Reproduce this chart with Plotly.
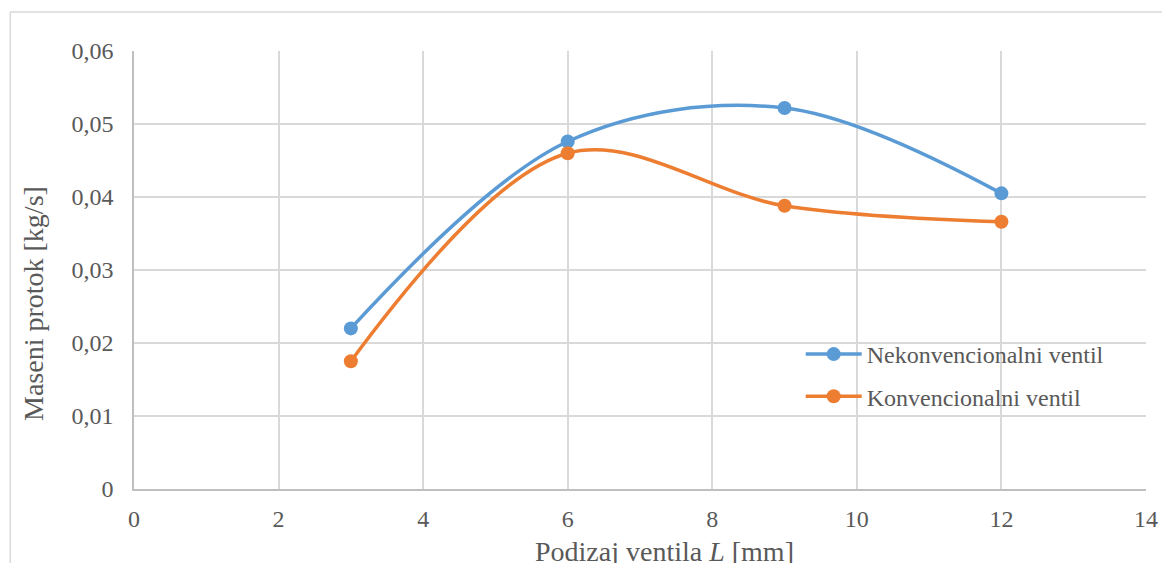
import plotly.graph_objects as go

x_lift = [3, 6, 9, 12]
nekonvencionalni = [0.0220, 0.0476, 0.0522, 0.0405]
konvencionalni = [0.0175, 0.0460, 0.0388, 0.0366]
series_names = ["Nekonvencionalni ventil", "Konvencionalni ventil"]
x_tick_vals = [0, 2, 4, 6, 8, 10, 12, 14]
y_tick_vals = [0, 0.01, 0.02, 0.03, 0.04, 0.05, 0.06]
y_tick_text = ["0", "0,01", "0,02", "0,03", "0,04", "0,05", "0,06"]

FONT = "Liberation Serif, Times New Roman, serif"
TXT = "#595959"
GRID = "#D9D9D9"

fig = go.Figure()
fig.add_trace(go.Scatter(x=x_lift, y=nekonvencionalni, name=series_names[0],
                         mode="lines+markers", legendgroup="a",
                         line=dict(color="#5B9BD5", width=3.5, shape="spline", smoothing=1.0),
                         marker=dict(size=14, color="#5B9BD5")))
fig.add_trace(go.Scatter(x=x_lift, y=konvencionalni, name=series_names[1],
                         mode="lines+markers", legendgroup="b",
                         line=dict(color="#ED7D31", width=3.5, shape="spline", smoothing=1.0),
                         marker=dict(size=14, color="#ED7D31")))

OFF = 8  # default page body margin
W, H = 1170 - OFF, 563 - OFF
# plot area in screen pixels
PL, PR, PT, PB = 134, 1148, 51, 489
L, T = PL - OFF, PT - OFF
R, B = OFF + W - PR, OFF + H - PB
pw, ph = PR - PL, PB - PT

def px_x(p):
    return (p - PL) / pw

def px_y(p):
    return (PB - p) / ph

fig.update_layout(
    width=W, height=H,
    margin=dict(l=L, r=R, t=T, b=B),
    paper_bgcolor="white", plot_bgcolor="white",
    font=dict(family=FONT, color=TXT, size=24),
    showlegend=True,
    legend=dict(x=px_x(802), y=px_y(332), xanchor="left", yanchor="top",
                font=dict(size=24, color=TXT, family=FONT),
                bgcolor="rgba(0,0,0,0)", tracegroupgap=8, itemwidth=56),
    xaxis=dict(range=[0, 14], tickvals=x_tick_vals, showgrid=True, gridcolor=GRID, gridwidth=1.5,
               showline=True, linecolor="#BFBFBF", linewidth=1.5, zeroline=False,
               ticks="", ticklabelstandoff=7, tickfont=dict(size=24, color=TXT, family=FONT)),
    yaxis=dict(range=[0, 0.06], tickvals=y_tick_vals, ticktext=y_tick_text, showgrid=True,
               gridcolor=GRID, gridwidth=1.5, showline=True, linecolor="#BFBFBF", linewidth=1.5,
               zeroline=False, ticks="", ticklabelstandoff=14,
               tickfont=dict(size=24, color=TXT, family=FONT)),
    annotations=[
        dict(text="Podizaj ventila <i>L</i> [mm]", xref="paper", yref="paper",
             x=px_x(666), y=0, yshift=-(551 - PB), xanchor="center", yanchor="middle",
             showarrow=False, font=dict(size=28, color=TXT, family=FONT)),
        dict(text="Maseni protok [kg/s]", xref="paper", yref="paper",
             x=0, xshift=33 - PL, y=px_y(304), xanchor="center", yanchor="middle",
             textangle=-90, showarrow=False, font=dict(size=28, color=TXT, family=FONT)),
    ],
    shapes=[
        dict(type="line", xref="paper", yref="paper", x0=px_x(10), x1=px_x(1200),
             y0=px_y(12), y1=px_y(12), line=dict(color=GRID, width=1.5)),
        dict(type="line", xref="paper", yref="paper", x0=px_x(10), x1=px_x(10),
             y0=px_y(12), y1=px_y(600), line=dict(color=GRID, width=1.5)),
    ],
)

fig.write_html("out.html")
